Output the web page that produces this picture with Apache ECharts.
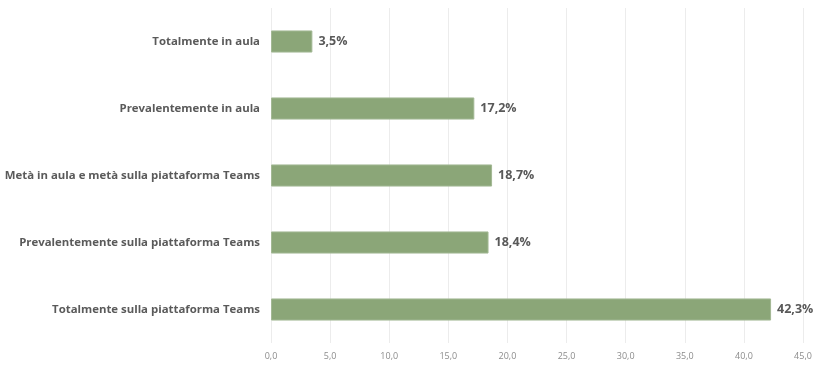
<!DOCTYPE html>
<html><head><meta charset="utf-8">
<script src="https://cdn.jsdelivr.net/npm/echarts@6/dist/echarts.min.js"></script>
<style>html,body{margin:0;padding:0;background:#fff}#c{width:819px;height:369px}</style>
</head><body><div id="c"></div>
<script>
const categories = ["Totalmente in aula","Prevalentemente in aula","Metà in aula e metà sulla piattaforma Teams","Prevalentemente sulla piattaforma Teams","Totalmente sulla piattaforma Teams"];
const values = [3.5, 17.2, 18.7, 18.4, 42.3];
const xTicks = [0,5,10,15,20,25,30,35,40,45];

const chart = echarts.init(document.getElementById('c'));
chart.setOption({
  animation:false,
  grid:{left:271,right:16,top:8,bottom:26},
  xAxis:{type:'value',min:xTicks[0],max:xTicks[xTicks.length-1],interval:xTicks[1]-xTicks[0],
    axisLine:{show:false},axisTick:{show:false},
    splitLine:{lineStyle:{color:'#ececec',width:1}},
    axisLabel:{color:'#8c8c8c',fontSize:9,fontFamily:'Open Sans',margin:9,
      formatter:v=>v.toFixed(1).replace('.',',')}},
  yAxis:{type:'category',data:categories,inverse:true,
    axisLine:{show:false},axisTick:{show:false},
    axisLabel:{color:'#5a5a5a',fontSize:11.4,fontWeight:'bold',fontFamily:'Open Sans',margin:11}},
  series:[{type:'bar',data:values,barWidth:'33%',
    itemStyle:{color:'#8ba678',borderColor:'#a3b894',borderWidth:1},
    label:{show:true,position:'right',distance:6,color:'#595959',fontSize:12.5,fontWeight:'bold',fontFamily:'Open Sans',
      formatter:p=>p.value.toFixed(1).replace('.',',')+'%'}}]
});
</script></body></html>
